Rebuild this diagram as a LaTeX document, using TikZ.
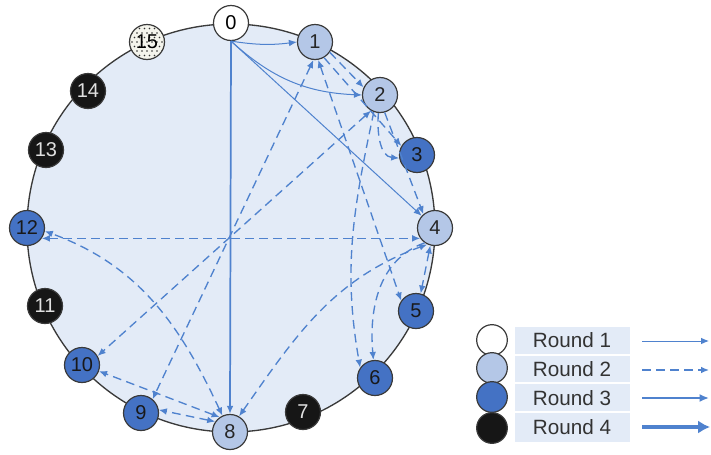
\documentclass[tikz,border=0pt]{standalone}
\usepackage{fontspec}
\setmainfont{Liberation Sans}
\usetikzlibrary{arrows.meta}
\definecolor{ringfill}{HTML}{E3EBF7}
\definecolor{ringdraw}{HTML}{3A3A3A}
\definecolor{rtwo}{HTML}{B4C7E7}
\definecolor{rthree}{HTML}{4472C4}
\definecolor{rfour}{HTML}{161616}
\definecolor{arr}{HTML}{4F82CE}
\definecolor{dotbg}{HTML}{F4F4EC}
\tikzset{
  nd/.style={circle, draw=ringdraw, line width=0.9pt, minimum size=26.25pt, inner sep=0pt,
    font=\fontsize{15}{15}\selectfont},
  ndone/.style={nd, fill=white, text=black},
  ndtwo/.style={nd, fill=rtwo, text=black!85},
  ndthree/.style={nd, fill=rthree, text=black!90},
  ndfour/.style={nd, fill=rfour, text=black!12},
  lg/.style={circle, draw=ringdraw, line width=0.9pt, minimum size=23pt, inner sep=0pt},
  rone/.style={draw=arr, line width=0.75pt, -{Latex[length=6pt,width=5pt]}},
  rtwoa/.style={draw=arr, line width=1pt, dash pattern=on 6.5pt off 4pt, -{Latex[length=6pt,width=5pt]}},
  rtwob/.style={draw=arr, line width=1pt, dash pattern=on 6.5pt off 4pt, {Latex[length=6pt,width=5pt]}-{Latex[length=6pt,width=5pt]}},
  rthr/.style={draw=arr, line width=1.4pt, -{Latex[length=7pt,width=6pt]}},
  rfou/.style={draw=arr, line width=3.2pt, -{Latex[length=9pt,width=10pt]}},
  lgtext/.style={font=\fontsize{15.5}{15.5}\selectfont, text=black!80}
}
\begin{document}
\begin{tikzpicture}[x=0.75pt,y=0.75pt]
\useasboundingbox (0,0) rectangle (711,-454);
\fill[white] (0,0) rectangle (711,-454);
% ring
\draw[ringdraw, fill=ringfill, line width=1pt] (231,-228) circle[radius=204];
% nodes
\node[ndone]   (n0)  at (231,-23)  {0};
\node[ndtwo]   (n1)  at (315,-42)  {1};
\node[ndtwo]   (n2)  at (380,-95)  {2};
\node[ndthree] (n3)  at (417,-155) {3};
\node[ndtwo]   (n4)  at (435,-228) {4};
\node[ndthree] (n5)  at (416,-311) {5};
\node[ndthree] (n6)  at (375,-378) {6};
\node[ndfour]  (n7)  at (303,-412) {7};
\node[ndtwo]   (n8)  at (230,-432) {8};
\node[ndthree] (n9)  at (141,-413) {9};
\node[ndthree] (n10) at (82,-365)  {10};
\node[ndfour]  (n11) at (45,-306)  {11};
\node[ndthree] (n12) at (27,-228)  {12};
\node[ndfour]  (n13) at (46,-150)  {13};
\node[ndfour]  (n14) at (88,-91)   {14};
% node 15 with sparse dots
\fill[dotbg] (147,-42) circle[radius=17.5];
\begin{scope}
  \clip (147,-42) circle[radius=17.5];
  \foreach \i in {-4,...,4} {
    \foreach \j in {-4,...,4} {
      \fill[black!80] ({147+\i*5+mod(\j+4,2)*2.5},{-42+\j*4.5}) circle[radius=0.9];
    }
  }
\end{scope}
\node[nd] (n15) at (147,-42) {15};
% round 1
\draw[rone] (n0.south) to[bend right=8] (n1.west);
\draw[rone] (n0.south) to[bend right=20] (n2.west);
\draw[rone] (n0.south) -- (n4);
\draw[rone, line width=1.3pt] (n0.south) -- (n8.north);
% round 2
\draw[rtwob] (n1.265) -- (n9.50);
\draw[rtwob] (n2.240) -- (n10.30);
\draw[rtwob] (n12.-35) -- (n4.215);
\draw[rtwob] (n8.115) to[out=115,in=-20] (n12.-10);
\draw[rtwob] (n8.60) to[out=55,in=200] (n4.245);
\draw[rtwob] (n8.145) -- (n9.10);
\draw[rtwob] (n8.125) -- (n10.-20);
\draw[rtwoa] (n1.-35) -- (n2.155);
\draw[rtwoa] (n1.-60) -- (n3.150);
\draw[rtwob] (n1.-80) -- (n5.145);
\draw[rtwoa] (n2.-95) to[out=-95,in=175] (n3.190);
\draw[rtwoa] (n2.-75) -- (n4.130);
\draw[rtwoa] (n2.250) to[out=258,in=100] (n6.145);
\draw[rtwob] (n4.255) -- (n5.75);
\draw[rtwoa] (n4.235) to[out=200,in=95] (n6.95);
% legend
\fill[ringfill] (515,-327) rectangle (630,-442);
\draw[white, line width=0.8pt] (515,-355) -- (630,-355) (515,-383) -- (630,-383) (515,-412) -- (630,-412);
\node[lg, fill=white] (l1) at (492,-340) {};
\node[lg, fill=rtwo]  (l2) at (492,-368) {};
\node[lg, fill=rthree] (l3) at (492,-397) {};
\node[lg, fill=rfour] (l4) at (492,-428) {};
\node[lgtext] (t1) at (572,-340) {Round 1};
\node[lgtext] (t2) at (572,-369) {Round 2};
\node[lgtext] (t3) at (572,-398) {Round 3};
\node[lgtext] (t4) at (572,-427) {Round 4};
\coordinate (a1s) at (642,-341); \coordinate (a1e) at (709,-341);
\coordinate (a2s) at (642,-370); \coordinate (a2e) at (709,-370);
\coordinate (a3s) at (642,-398); \coordinate (a3e) at (709,-398);
\coordinate (a4s) at (642,-427); \coordinate (a4e) at (710,-427);
\draw[rone] (a1s) -- (a1e);
\draw[rtwoa] (a2s) -- (a2e);
\draw[rthr] (a3s) -- (a3e);
\draw[rfou] (a4s) -- (a4e);
\end{tikzpicture}
\end{document}
